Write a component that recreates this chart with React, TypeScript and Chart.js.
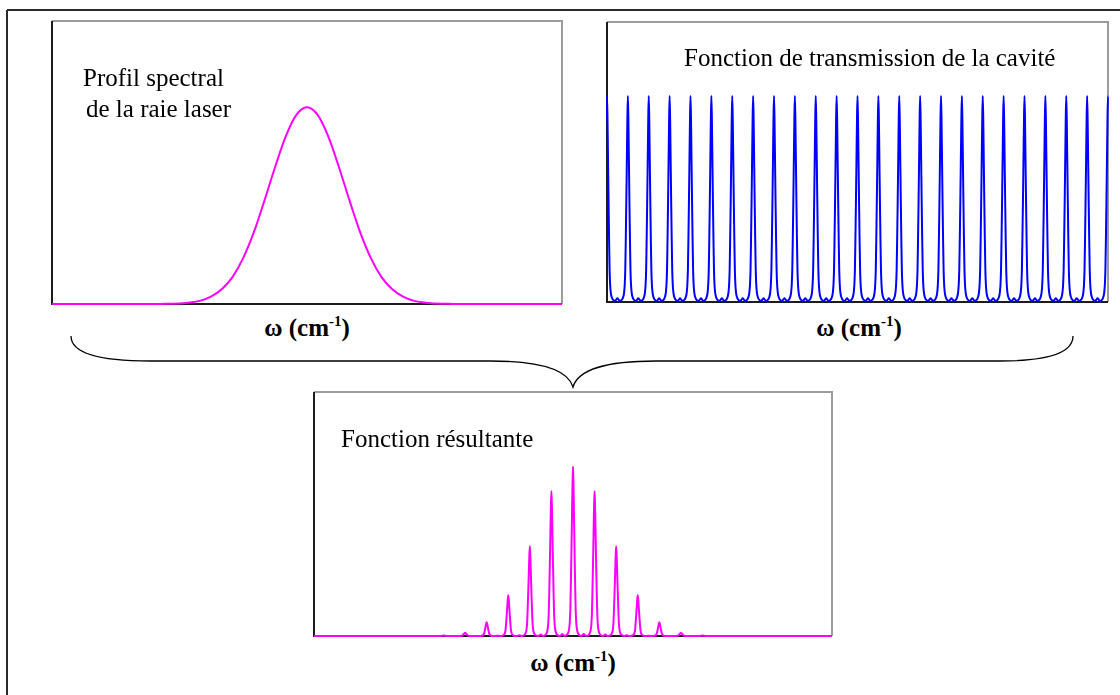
import React, { useEffect, useRef } from "react";
import { Chart, registerables } from "chart.js";

Chart.register(...registerables);

// ---------- DATA ----------
// Laser line spectral profile (ω in units of the cavity free spectral range)
const laserOmega = [0, 3, 5, 5.5, 6, 6.5, 7, 7.5, 8, 8.5, 9, 9.5, 10, 10.5, 11, 11.5, 12, 12.5, 13, 13.5, 14, 14.5, 15, 15.5, 16, 16.5, 17, 17.5, 18, 18.5, 19, 21, 24];
const laserIntensity = [0, 0, 0, 0.001, 0.002, 0.005, 0.012, 0.027, 0.053, 0.096, 0.163, 0.254, 0.366, 0.484, 0.592, 0.668, 0.695, 0.668, 0.592, 0.484, 0.366, 0.254, 0.163, 0.096, 0.053, 0.027, 0.012, 0.005, 0.002, 0.001, 0, 0, 0];

// Cavity transmission: peak positions and the shape of one transmission peak
const cavityPeakOmega = [0, 1, 2, 3, 4, 5, 6, 7, 8, 9, 10, 11, 12, 13, 14, 15, 16, 17, 18, 19, 20, 21, 22, 23, 24];
const cavityPeakHeight = 0.735;
const peakShapeOffset = [0, 0.025, 0.05, 0.075, 0.1, 0.125, 0.15, 0.18, 0.22, 0.27, 0.33, 0.39, 0.45, 0.5];
const peakShapeValue = [1, 0.88, 0.68, 0.48, 0.3, 0.15, 0.08, 0.042, 0.02, 0.008, 0.002, 0, 0.007, 0.013];

// Resulting function: transmitted modes and their heights
const resultPeakOmega = [6, 7, 8, 9, 10, 11, 12, 13, 14, 15, 16, 17, 18];
const resultPeakHeight = [0.002, 0.0135, 0.056, 0.167, 0.368, 0.594, 0.695, 0.594, 0.368, 0.167, 0.056, 0.0135, 0.002];

const omegaRange = [0, 24];

// ---------- helpers building the library's point tables ----------
type Pt = { x: number; y: number };

function fullShape(includeEnd: boolean): { dx: number; v: number }[] {
  const out: { dx: number; v: number }[] = [];
  for (let i = peakShapeOffset.length - 1; i >= 1; i--) out.push({ dx: -peakShapeOffset[i], v: peakShapeValue[i] });
  const lastPos = includeEnd ? peakShapeOffset.length : peakShapeOffset.length - 1;
  for (let i = 0; i < lastPos; i++) out.push({ dx: peakShapeOffset[i], v: peakShapeValue[i] });
  return out;
}

function laserPoints(): Pt[] {
  return laserOmega.map((x, i) => ({ x, y: laserIntensity[i] }));
}

function cavityPoints(): Pt[] {
  const pts: Pt[] = [];
  cavityPeakOmega.forEach((p, k) => {
    const shape = fullShape(k === cavityPeakOmega.length - 1);
    shape.forEach((s) => pts.push({ x: p + s.dx, y: cavityPeakHeight * s.v }));
  });
  return pts;
}

function resultPoints(): Pt[] {
  const pts: Pt[] = [{ x: omegaRange[0], y: 0 }];
  const inner = fullShape(false).filter((s) => Math.abs(s.dx) < 0.5);
  const n = resultPeakOmega.length;
  pts.push({ x: resultPeakOmega[0] - 0.5, y: 0 });
  resultPeakOmega.forEach((p, k) => {
    const h = resultPeakHeight[k];
    inner.forEach((s) => pts.push({ x: p + s.dx, y: h * s.v }));
    if (k < n - 1) {
      const hn = resultPeakHeight[k + 1];
      const edge = peakShapeValue[peakShapeValue.length - 1];
      pts.push({ x: p + 0.5, y: (edge * (h + hn)) / 2 });
    }
  });
  pts.push({ x: resultPeakOmega[n - 1] + 0.5, y: 0 });
  pts.push({ x: omegaRange[1], y: 0 });
  return pts;
}

// ---------- chart plumbing ----------
const PAD = 4;

const framePlugin = {
  id: "frame",
  beforeDatasetsDraw(chart: any) {
    const { ctx, chartArea } = chart;
    const { left, top, right, bottom } = chartArea;
    ctx.save();
    ctx.lineWidth = 2;
    ctx.strokeStyle = "#9c9c9c";
    ctx.beginPath();
    ctx.moveTo(left, top);
    ctx.lineTo(right, top);
    ctx.lineTo(right, bottom);
    ctx.stroke();
    ctx.strokeStyle = "#1c1c1c";
    ctx.beginPath();
    ctx.moveTo(left, top);
    ctx.lineTo(left, bottom);
    ctx.lineTo(right, bottom);
    ctx.stroke();
    ctx.restore();
  },
};

type PanelProps = {
  left: number;
  top: number;
  right: number;
  bottom: number;
  points: Pt[];
  color: string;
  yMin: number;
  yMax: number;
};

function Panel({ left, top, right, bottom, points, color, yMin, yMax }: PanelProps) {
  const ref = useRef<HTMLCanvasElement | null>(null);
  const w = right - left + 2 * PAD;
  const h = bottom - top + 2 * PAD;
  useEffect(() => {
    if (!ref.current) return;
    const chart = new Chart(ref.current, {
      type: "line",
      data: {
        datasets: [
          {
            data: points,
            borderColor: color,
            borderWidth: 2,
            pointRadius: 0,
            fill: false,
            cubicInterpolationMode: "monotone",
            clip: { left: 1, right: 1, top: 2, bottom: 2 },
          } as any,
        ],
      },
      options: {
        animation: false,
        responsive: false,
        maintainAspectRatio: false,
        devicePixelRatio: 1,
        events: [],
        layout: { padding: PAD },
        plugins: { legend: { display: false }, tooltip: { enabled: false }, title: { display: false } },
        scales: {
          x: { type: "linear", min: omegaRange[0], max: omegaRange[1], display: false },
          y: { type: "linear", min: yMin, max: yMax, display: false },
        },
      },
      plugins: [framePlugin],
    });
    return () => chart.destroy();
  }, []);
  return (
    <canvas
      ref={ref}
      width={w}
      height={h}
      style={{ position: "absolute", left: left - PAD, top: top - PAD, width: w, height: h }}
    />
  );
}

const serif = '"Liberation Serif", "Times New Roman", serif';

function Label({ x, y, text, size = 25 }: { x: number; y: number; text: string; size?: number }) {
  return (
    <div
      style={{
        position: "absolute",
        left: x,
        top: y,
        fontFamily: serif,
        fontSize: size,
        lineHeight: `${size}px`,
        whiteSpace: "nowrap",
        color: "#000",
      }}
    >
      {text}
    </div>
  );
}

function AxisLabel({ cx, top }: { cx: number; top: number }) {
  return (
    <div
      style={{
        position: "absolute",
        left: cx,
        top,
        transform: "translateX(-50%)",
        fontFamily: serif,
        fontWeight: "bold",
        fontSize: 25,
        lineHeight: "25px",
        whiteSpace: "nowrap",
        color: "#000",
      }}
    >
      ω (cm<span style={{ fontSize: 15, position: "relative", top: -10 }}>-1</span>)
    </div>
  );
}

export default function App() {
  return (
    <div
      style={{
        position: "fixed",
        left: 0,
        top: 0,
        width: 1120,
        height: 695,
        overflow: "hidden",
        background: "#fff",
      }}
    >
      <svg width={1120} height={695} style={{ position: "absolute", left: 0, top: 0 }}>
        <line x1={7} y1={10} x2={1120} y2={10} stroke="#2a2a2a" strokeWidth={2} />
        <line x1={7} y1={10} x2={7} y2={695} stroke="#2a2a2a" strokeWidth={2} />
        <path
          d="M71,336 C71,354 100,361 150,361 L490,361 C540,361 568,370 573,387 C578,370 606,361 656,361 L1000,361 C1046,361 1073,354 1073,336"
          fill="none"
          stroke="#000"
          strokeWidth={1.3}
        />
      </svg>
      <Panel left={52} top={21} right={562} bottom={304} points={laserPoints()} color="#ff00ff" yMin={0} yMax={1} />
      <Panel left={607} top={22} right={1108} bottom={302} points={cavityPoints()} color="#0000ff" yMin={-0.004} yMax={1} />
      <Panel left={314} top={392} right={832} bottom={636} points={resultPoints()} color="#ff00ff" yMin={0} yMax={1} />

      <Label x={83} y={65} text="Profil spectral" />
      <Label x={86} y={96} text="de la raie laser" />
      <Label x={684} y={45} text="Fonction de transmission de la cavité" />
      <Label x={341} y={426} text="Fonction résultante" />

      <AxisLabel cx={307} top={315} />
      <AxisLabel cx={859} top={315} />
      <AxisLabel cx={573} top={650} />
    </div>
  );
}
